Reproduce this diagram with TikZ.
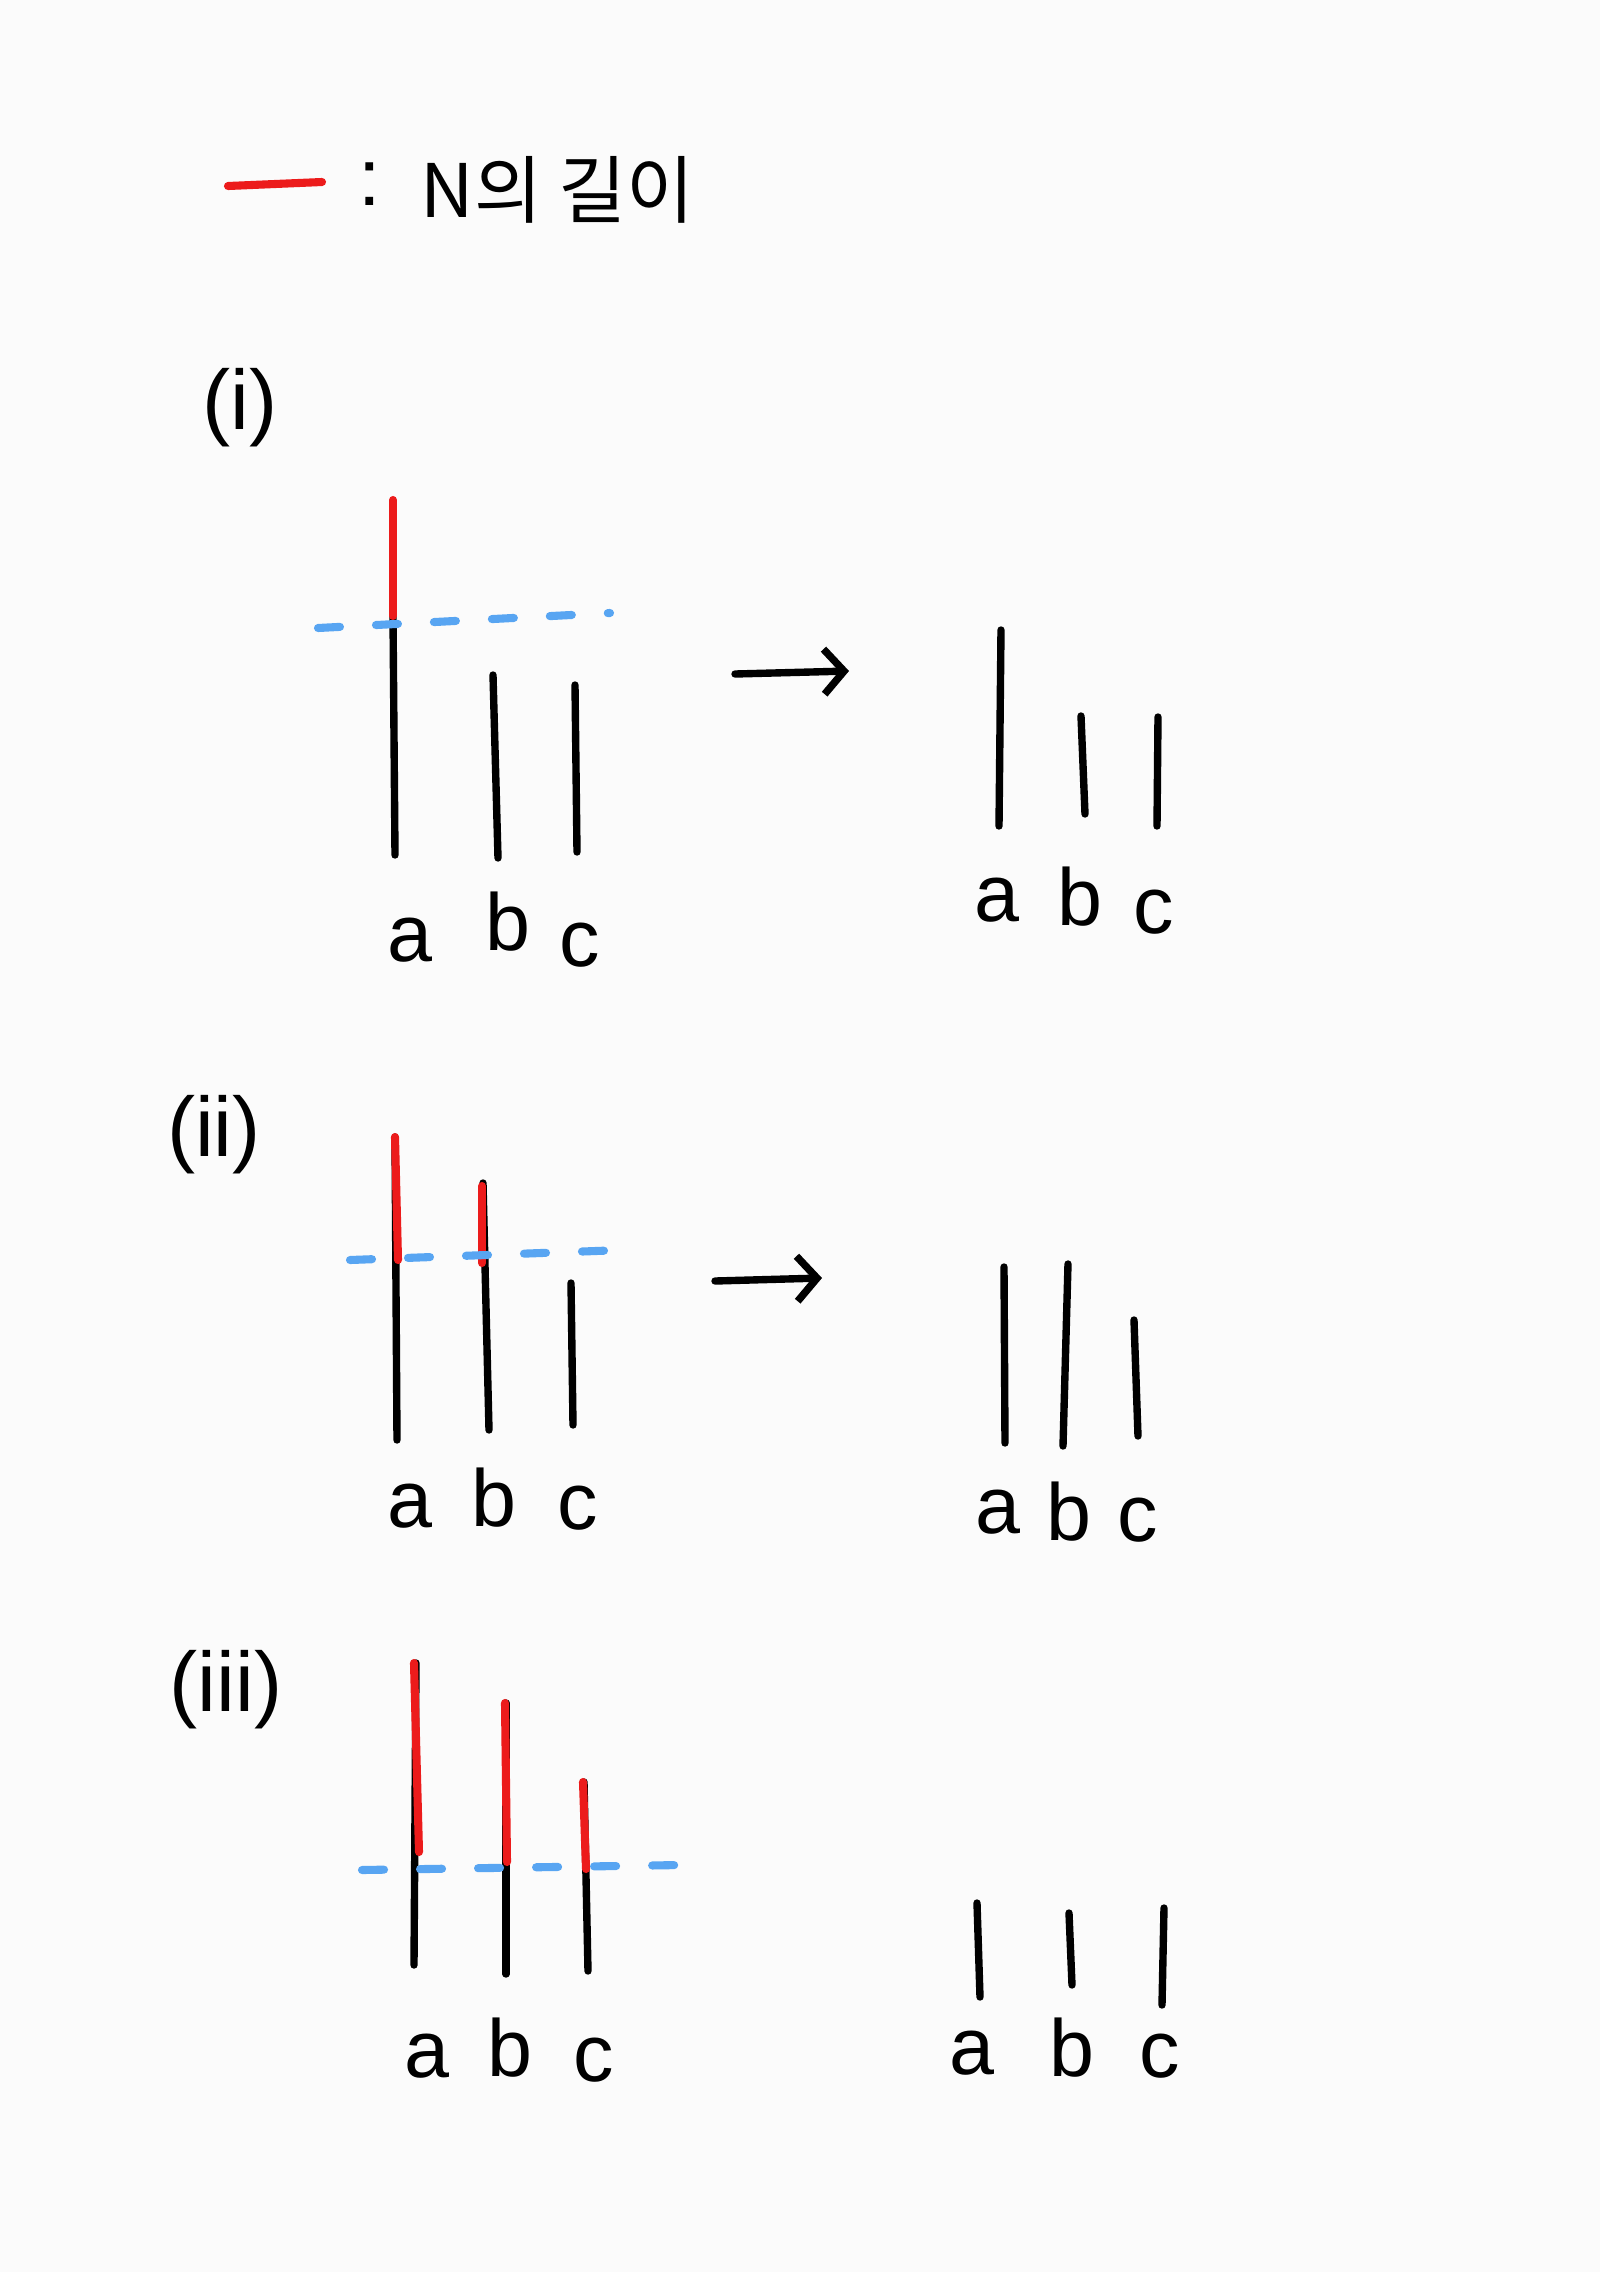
\documentclass[tikz,border=0pt]{standalone}
\usepackage{fontspec}
\setmainfont{Liberation Sans}
\newfontfamily\kofont{Noto Sans CJK KR}
\usepackage{tikz}
\usetikzlibrary{positioning, arrows.meta}
\definecolor{cutRed}{HTML}{EC1B1B}
\definecolor{levelBlue}{HTML}{58A5F2}
\definecolor{paper}{HTML}{FBFBFB}

\begin{document}
\begin{tikzpicture}[
  x=0.01cm, y=-0.01cm,
  >={Straight Barb[length=2mm, width=4.5mm]},
  bar/.style={black, line width=2.1pt, line cap=round},
  cut/.style={cutRed, line width=2.3pt, line cap=round},
  level/.style={levelBlue, line width=2.3pt, line cap=round, dash pattern=on 0.22cm off 0.36cm},
  arr/.style={->, black, line width=2.1pt, line cap=round},
  lbl/.style={font=\fontsize{23}{27}\selectfont, inner sep=0pt},
  case/.style={font=\fontsize{24}{28}\selectfont, inner sep=0pt}
]
  % --- fondo / bounding box ---
  \fill[paper] (0,0) rectangle (1600,2272);

  % --- Leyenda ---
  \draw[cut] (228,186) -- (322,182);
  \node[lbl] (colon) at (370,184) {:};
  \node[font=\kofont\fontsize{21}{26}\selectfont, inner sep=0pt, anchor=west] (legend) at (420,190) {N의 길이};

  % --- (i) ---
  \node[case] (c1) at (240,408) {(i)};
  \draw[bar] (393,616) -- (395,855);
  \draw[cut] (393,500) -- (393,616);
  \draw[bar] (493,675) -- (498,858);
  \draw[bar] (575,685) -- (577,852);
  \draw[level] (318,628) -- (610,613);
  \node[lbl] (a1) at (410,940) {a};
  \node[lbl] (b1) at (508,922) {b};
  \node[lbl] (cc1) at (580,945) {c};

  \coordinate (s1) at (735,674);
  \coordinate (e1) at (849,671);
  \draw[arr] (s1) -- (e1);

  \draw[bar] (1001,630) -- (999,826);
  \draw[bar] (1081,716) -- (1085,814);
  \draw[bar] (1158,717) -- (1157,826);
  \node[lbl] (a1r) at (997,900) {a};
  \node[lbl] (b1r) at (1080,897) {b};
  \node[lbl] (cc1r) at (1154,912) {c};

  % --- (ii) ---
  \node[case] (c2) at (214,1135) {(ii)};
  \draw[bar] (395,1137) -- (397,1440);
  \draw[cut] (395,1137) -- (398,1260);
  \draw[bar] (483,1183) -- (489,1430);
  \draw[cut] (482,1186) -- (482,1263);
  \draw[bar] (571,1283) -- (573,1425);
  \draw[level] (350,1260) -- (623,1250);
  \node[lbl] (a2) at (410,1506) {a};
  \node[lbl] (b2) at (494,1498) {b};
  \node[lbl] (cc2) at (578,1508) {c};

  \coordinate (s2) at (715,1281);
  \coordinate (e2) at (822,1278);
  \draw[arr] (s2) -- (e2);

  \draw[bar] (1004,1267) -- (1005,1443);
  \draw[bar] (1068,1264) -- (1063,1446);
  \draw[bar] (1134,1320) -- (1138,1436);
  \node[lbl] (a2r) at (998,1512) {a};
  \node[lbl] (b2r) at (1069,1512) {b};
  \node[lbl] (cc2r) at (1138,1520) {c};

  % --- (iii) ---
  \node[case] (c3) at (226,1690) {(iii)};
  \draw[bar] (416,1663) -- (414,1965);
  \draw[cut] (414,1663) -- (419,1852);
  \draw[bar] (506,1703) -- (506,1974);
  \draw[cut] (505,1703) -- (507,1862);
  \draw[bar] (584,1782) -- (588,1971);
  \draw[cut] (583,1782) -- (586,1869);
  \draw[level] (362,1870) -- (681,1865);
  \node[lbl] (a3) at (427,2056) {a};
  \node[lbl] (b3) at (510,2048) {b};
  \node[lbl] (cc3) at (594,2060) {c};

  \draw[bar] (977,1903) -- (980,1997);
  \draw[bar] (1069,1913) -- (1072,1985);
  \draw[bar] (1164,1908) -- (1162,2005);
  \node[lbl] (a3r) at (972,2053) {a};
  \node[lbl] (b3r) at (1072,2048) {b};
  \node[lbl] (cc3r) at (1160,2056) {c};
\end{tikzpicture}
\end{document}
